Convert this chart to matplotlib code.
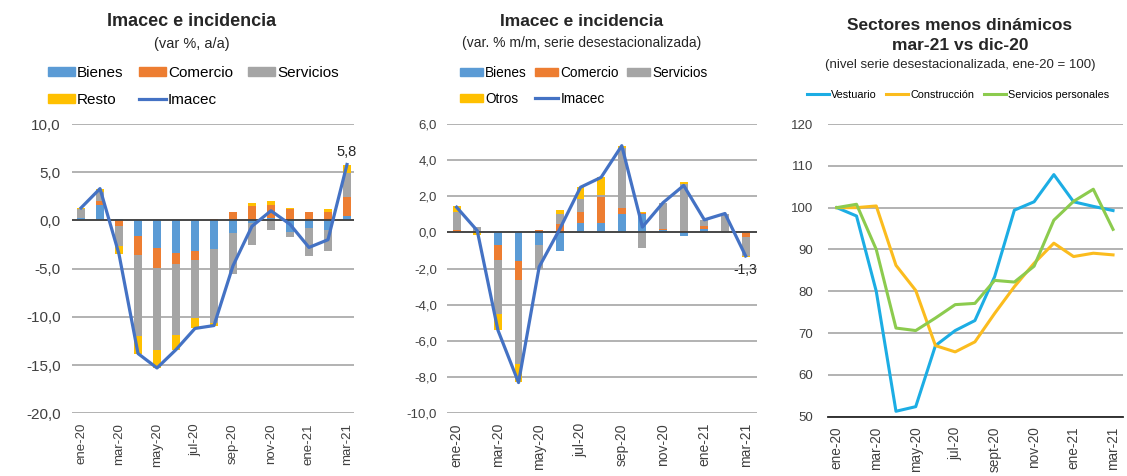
import numpy as np
import matplotlib.pyplot as plt
from matplotlib.patches import Patch
from matplotlib.lines import Line2D

plt.rcParams['font.family'] = ['Liberation Sans', 'DejaVu Sans']

meses = ['ene-20', 'feb-20', 'mar-20', 'abr-20', 'may-20', 'jun-20', 'jul-20', 'ago-20',
         'sep-20', 'oct-20', 'nov-20', 'dic-20', 'ene-21', 'feb-21', 'mar-21']
meses_der = ['ene-20', 'feb-20', 'mar-20', 'abr-20', 'may-20', 'jun-20', 'jul-20', 'ago-20',
             'sept-20', 'oct-20', 'nov-20', 'dic-20', 'ene-21', 'feb-21', 'mar-21']

# incidencia a/a
aa_bienes = [0.3, 1.6, 0.1, -1.6, -2.9, -3.4, -3.2, -3.0, -1.3, -0.3, 0.3, -1.2, -0.8, -1.0, 0.5]
aa_comercio = [0.0, 0.4, -0.6, -2.0, -2.0, -1.1, -0.9, 0.1, 0.9, 1.5, 1.3, 1.2, 0.9, 0.9, 1.9]
aa_servicios = [0.9, 1.0, -2.1, -8.4, -8.5, -7.4, -6.0, -7.6, -4.3, -2.2, -1.0, -0.5, -2.9, -2.2, 2.5]
aa_resto = [0.1, 0.3, -0.8, -1.8, -1.9, -1.5, -1.1, -0.3, 0.0, 0.3, 0.4, 0.1, 0.0, 0.3, 0.9]
aa_imacec = [1.3, 3.3, -3.5, -13.8, -15.3, -13.4, -11.2, -10.9, -4.7, -0.6, 1.0, -0.4, -2.8, -2.0, 5.8]

# incidencia m/m desestacionalizada
mm_bienes = [0.05, 0.0, -0.7, -1.55, -0.7, -1.05, 0.5, 0.5, 1.0, 1.0, 0.15, -0.2, 0.2, 0.0, 0.05]
mm_comercio = [0.1, 0.0, -0.8, -1.1, 0.15, 0.45, 0.65, 1.45, 0.35, 0.1, 0.05, 0.1, 0.15, 0.0, -0.25]
mm_servicios = [1.0, 0.3, -3.0, -4.65, -1.3, 0.6, 0.7, 0.1, 3.35, -0.85, 1.45, 2.6, 0.35, 1.0, -1.05]
mm_otros = [0.3, -0.15, -0.9, -0.95, 0.0, 0.2, 0.65, 1.0, 0.1, 0.05, 0.0, 0.1, 0.0, 0.05, -0.05]
mm_imacec = [1.4, 0.1, -5.4, -8.3, -1.9, 0.2, 2.5, 3.05, 4.8, 0.3, 1.65, 2.6, 0.7, 1.05, -1.3]

# sectores menos dinamicos (ene-20 = 100)
vestuario = [100, 98, 80, 51.3, 52.4, 67, 70.6, 73, 83.5, 99.4, 101.4, 107.9, 101.4, 100.3, 99.3]
construccion = [100, 100, 100.4, 86.2, 80.2, 67, 65.5, 67.9, 74.7, 81.1, 86.7, 91.5, 88.3, 89.1, 88.7]
serv_personales = [100, 100.8, 90, 71.2, 70.6, 73.6, 76.8, 77.1, 82.6, 82.2, 86.0, 97.0, 101.5, 104.4, 94.8]

AZUL, NARANJA, GRIS, AMARILLO, LINEA = '#5B9BD5', '#ED7D31', '#A5A5A5', '#FFC000', '#4472C4'
TXT = '#262626'
W, H = 1127, 476


def fmt_coma(v, _=None):
    return f'{v:.1f}'.replace('.', ',')


def barras_apiladas(ax, x, series, colores, ancho):
    pos = np.zeros(len(x))
    neg = np.zeros(len(x))
    for vals, c in zip(series, colores):
        v = np.array(vals, dtype=float)
        base = np.where(v >= 0, pos, neg)
        ax.bar(x, v, ancho, bottom=base, color=c, zorder=2)
        pos += np.clip(v, 0, None)
        neg += np.clip(v, None, 0)


def estilo(ax, fs_x, fs_y, pad_y):
    for s in ax.spines.values():
        s.set_visible(False)
    ax.tick_params(length=0, colors='#404040')
    ax.tick_params(axis='x', labelsize=fs_x, pad=7)
    ax.tick_params(axis='y', labelsize=fs_y, pad=pad_y)
    ax.grid(axis='y', color='#a6a6a6', lw=1.2, zorder=0)
    ax.set_axisbelow(True)
    ax.patch.set_alpha(0)


def px(x0, y0, x1, y1):
    return [x0 / W, 1 - y1 / H, (x1 - x0) / W, (y1 - y0) / H]


fig = plt.figure(figsize=(11.27, 4.76), dpi=100)
x = np.arange(len(meses))
pares = x[::2]

# --- izquierda
ax1 = fig.add_axes(px(71.7, 124, 354, 413.3))
barras_apiladas(ax1, x, [aa_bienes, aa_comercio, aa_servicios, aa_resto],
                [AZUL, NARANJA, GRIS, AMARILLO], 0.42)
ax1.plot(x, aa_imacec, color=LINEA, lw=2.3, zorder=3)
ax1.axhline(0, color='#404040', lw=1.3, zorder=2.5)
ax1.set_ylim(-20, 10)
ax1.set_yticks(np.arange(-20, 11, 5))
ax1.yaxis.set_major_formatter(fmt_coma)
ax1.set_xlim(-0.49, 14.37)
ax1.set_xticks(pares, [meses[i] for i in pares], rotation=90)
estilo(ax1, 9.5, 11, 8)
ax1.annotate(fmt_coma(aa_imacec[-1]), (14, aa_imacec[-1]), xytext=(0, 4),
             textcoords='offset points', ha='center', va='bottom', fontsize=10.5, color=TXT)

fig.text(192 / W, 1 - 22 / H, 'Imacec e incidencia', ha='center', va='center',
         fontsize=13, fontweight='bold', color=TXT)
fig.text(192 / W, 1 - 44 / H, '(var %, a/a)', ha='center', va='center', fontsize=10.5, color=TXT)

h1 = [Patch(color=AZUL), Patch(color=AMARILLO), Patch(color=NARANJA),
      Line2D([], [], color=LINEA, lw=2.3), Patch(color=GRIS)]
fig.legend(h1, ['Bienes', 'Resto', 'Comercio', 'Imacec', 'Servicios'], ncol=3,
           loc='upper left', bbox_to_anchor=(48 / W, 1 - 66 / H), frameon=False,
           fontsize=11, handlelength=1.75, handleheight=0.5, handletextpad=0.15,
           columnspacing=1.0, labelspacing=0.85, borderpad=0, borderaxespad=0)

# --- centro
ax2 = fig.add_axes(px(446.7, 124, 757, 413.3))
barras_apiladas(ax2, x, [mm_bienes, mm_comercio, mm_servicios, mm_otros],
                [AZUL, NARANJA, GRIS, AMARILLO], 0.38)
ax2.plot(x, mm_imacec, color=LINEA, lw=2.3, zorder=3)
ax2.axhline(0, color='#404040', lw=1.3, zorder=2.5)
ax2.set_ylim(-10, 6)
ax2.set_yticks(np.arange(-10, 7, 2))
ax2.yaxis.set_major_formatter(fmt_coma)
ax2.set_xlim(-0.48, 14.55)
ax2.set_xticks(pares, [meses[i] for i in pares], rotation=90)
estilo(ax2, 10, 9.5, 7)
ax2.annotate(fmt_coma(mm_imacec[-1]), (14, mm_imacec[-1]), xytext=(0, -5),
             textcoords='offset points', ha='center', va='top', fontsize=10, color=TXT)

fig.text(582 / W, 1 - 22 / H, 'Imacec e incidencia', ha='center', va='center',
         fontsize=12.5, fontweight='bold', color=TXT)
fig.text(582 / W, 1 - 43 / H, '(var. % m/m, serie desestacionalizada)', ha='center',
         va='center', fontsize=10, color=TXT)

h2 = [Patch(color=AZUL), Patch(color=AMARILLO), Patch(color=NARANJA),
      Line2D([], [], color=LINEA, lw=2.3), Patch(color=GRIS)]
fig.legend(h2, ['Bienes', 'Otros', 'Comercio', 'Imacec', 'Servicios'], ncol=3,
           loc='upper left', bbox_to_anchor=(460 / W, 1 - 66 / H), frameon=False,
           fontsize=9.8, handlelength=1.7, handleheight=0.5, handletextpad=0.15,
           columnspacing=0.6, labelspacing=0.85, borderpad=0, borderaxespad=0)

# --- derecha
ax3 = fig.add_axes(px(828.3, 124, 1123.3, 416.7))
ax3.plot(x, vestuario, color='#1CADE4', lw=2.2, label='Vestuario')
ax3.plot(x, construccion, color='#FBBC1E', lw=2.2, label='Construcción')
ax3.plot(x, serv_personales, color='#8CCB4E', lw=2.2, label='Servicios personales')
ax3.set_ylim(50, 120)
ax3.set_yticks(np.arange(50, 121, 10))
ax3.set_xlim(-0.43, 14.52)
ax3.set_xticks(pares, [meses_der[i] for i in pares], rotation=90)
estilo(ax3, 9.8, 9.5, 11)
ax3.spines['bottom'].set_visible(True)
ax3.spines['bottom'].set_color('#262626')
ax3.spines['bottom'].set_linewidth(1.3)

fig.text(960 / W, 1 - 25 / H, 'Sectores menos dinámicos', ha='center', va='center',
         fontsize=12.5, fontweight='bold', color=TXT)
fig.text(960 / W, 1 - 45 / H, 'mar-21 vs dic-20', ha='center', va='center',
         fontsize=12.5, fontweight='bold', color=TXT)
fig.text(960 / W, 1 - 65 / H, '(nivel serie desestacionalizada, ene-20 = 100)', ha='center',
         va='center', fontsize=9.5, color=TXT)
fig.legend(*ax3.get_legend_handles_labels(), ncol=3, loc='upper left',
           bbox_to_anchor=(807 / W, 1 - 90 / H), frameon=False,
           fontsize=7.8, handlelength=2.0, handletextpad=0.2, columnspacing=0.9,
           borderpad=0, borderaxespad=0)

fig.savefig('out.png', dpi=100)
